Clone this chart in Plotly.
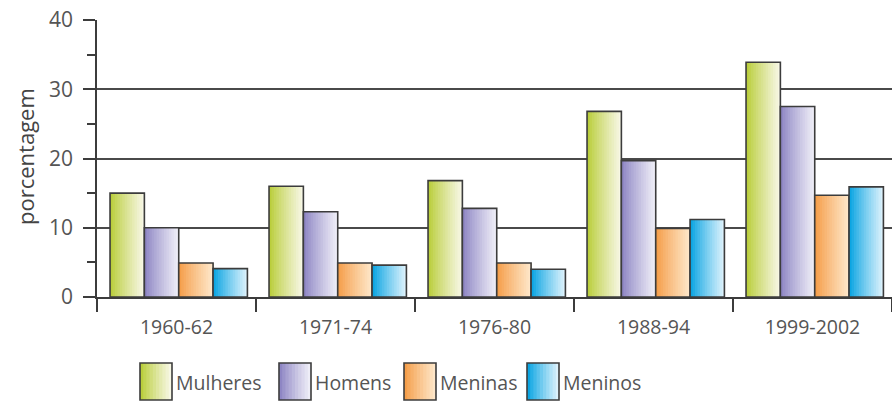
import plotly.graph_objects as go

# ---------------- data ----------------
categories = ["1960-62", "1971-74", "1976-80", "1988-94", "1999-2002"]
series_names = ["Mulheres", "Homens", "Meninas", "Meninos"]
mulheres = [15.0, 16.0, 16.8, 26.8, 33.9]
homens = [10.0, 12.3, 12.8, 19.7, 27.5]
meninas = [4.9, 4.9, 4.9, 9.9, 14.7]
meninos = [4.1, 4.6, 4.0, 11.2, 15.9]
y_title = "porcentagem"
y_ticks = [0, 10, 20, 30, 40]

series_values = [mulheres, homens, meninas, meninos]

# ---------------- style ----------------
W, H = 892, 408
ML, MR, MT, MB = 97, 0, 20, 111
plot_w = W - ML - MR
plot_h = H - MT - MB

grad_left = [(186, 206, 60), (142, 134, 196), (245, 158, 74), (12, 165, 226)]
grad_right = [(247, 247, 228), (238, 237, 247), (254, 230, 200), (218, 241, 252)]
N_SLICES = 14
bar_w = 0.216
group_start = -0.418
edge_col = "#3c3c3c"
text_col = "#555555"
FONT = "Open Sans"


def mix(c1, c2, t):
    return "rgb(%d,%d,%d)" % tuple(round(a + (b - a) * t) for a, b in zip(c1, c2))


fig = go.Figure()

for s, vals in enumerate(series_values):
    off = group_start + s * bar_w
    for j in range(N_SLICES):
        t = j / (N_SLICES - 1)
        fig.add_trace(go.Bar(
            x=categories, y=vals,
            offset=off + j * bar_w / N_SLICES,
            width=bar_w - j * bar_w / N_SLICES,
            marker=dict(color=mix(grad_left[s], grad_right[s], t ** 0.9), line=dict(width=0)),
            showlegend=False, hoverinfo="skip",
        ))
    fig.add_trace(go.Bar(
        x=categories, y=vals, name=series_names[s],
        offset=off, width=bar_w,
        marker=dict(color="rgba(0,0,0,0)", line=dict(color=edge_col, width=1.6)),
        showlegend=False,
    ))

# ---------------- custom legend (large gradient swatches) ----------------
# positions in page pixels
leg_x_px = [140, 279, 404, 527]
sw_w, sw_h = 32, 37
sw_top, sw_bot = 363, 400


def px_x(p):
    return (p - ML) / plot_w


def px_y(p):
    return (H - MB - p) / plot_h


shapes = []
annotations = []
for s, name in enumerate(series_names):
    x0 = leg_x_px[s]
    n = 10
    for j in range(n):
        t = j / (n - 1)
        shapes.append(dict(
            type="rect", xref="paper", yref="paper",
            x0=px_x(x0 + j * sw_w / n), x1=px_x(x0 + sw_w),
            y0=px_y(sw_bot), y1=px_y(sw_top),
            fillcolor=mix(grad_left[s], grad_right[s], t ** 0.9), line=dict(width=0),
        ))
    shapes.append(dict(
        type="rect", xref="paper", yref="paper",
        x0=px_x(x0), x1=px_x(x0 + sw_w), y0=px_y(sw_bot), y1=px_y(sw_top),
        fillcolor="rgba(0,0,0,0)", line=dict(color=edge_col, width=1.6),
    ))
    annotations.append(dict(
        xref="paper", yref="paper", x=px_x(x0 + sw_w + 2), y=px_y((sw_top + sw_bot) / 2 + 1),
        xanchor="left", yanchor="middle", text=name, showarrow=False,
        font=dict(family=FONT, size=19.5, color=text_col),
    ))

annotations.append(dict(
    xref="paper", yref="paper", x=px_x(25), y=px_y(157),
    xanchor="center", yanchor="middle", text=y_title, textangle=-90, showarrow=False,
    font=dict(family=FONT, size=22, color="#444444"),
))

fig.update_layout(
    width=W, height=H,
    margin=dict(l=ML, r=MR, t=MT, b=MB, pad=0, autoexpand=False),
    paper_bgcolor="white", plot_bgcolor="white",
    barmode="overlay",
    showlegend=False,
    shapes=shapes,
    annotations=annotations,
    font=dict(family=FONT, color=text_col),
)

fig.update_xaxes(
    type="category", range=[-0.5, 4.5],
    tickson="boundaries", ticks="outside", ticklen=13, tickwidth=1.5, tickcolor=edge_col,
    showline=True, linecolor=edge_col, linewidth=1.6,
    showgrid=False, zeroline=False,
    ticklabelstandoff=12,
    ticklabeloverflow="allow",
    automargin=False,
    tickfont=dict(family=FONT, size=19.5, color=text_col),
)

fig.update_yaxes(
    range=[0, 40], tickvals=y_ticks,
    ticks="outside", ticklen=12, tickwidth=1.5, tickcolor=edge_col,
    minor=dict(dtick=5, ticks="outside", ticklen=8, tickwidth=1.5, tickcolor=edge_col, showgrid=False),
    showline=True, linecolor=edge_col, linewidth=1.6,
    showgrid=True, gridcolor="#4a4a4a", gridwidth=1.5,
    zeroline=False,
    ticklabelstandoff=6,
    ticklabeloverflow="allow",
    automargin=False,
    tickfont=dict(family=FONT, size=21, color=text_col),
)

fig.write_html(
    "out.html",
    config={"displayModeBar": False},
    post_script="document.body.style.margin='0px';",
)
